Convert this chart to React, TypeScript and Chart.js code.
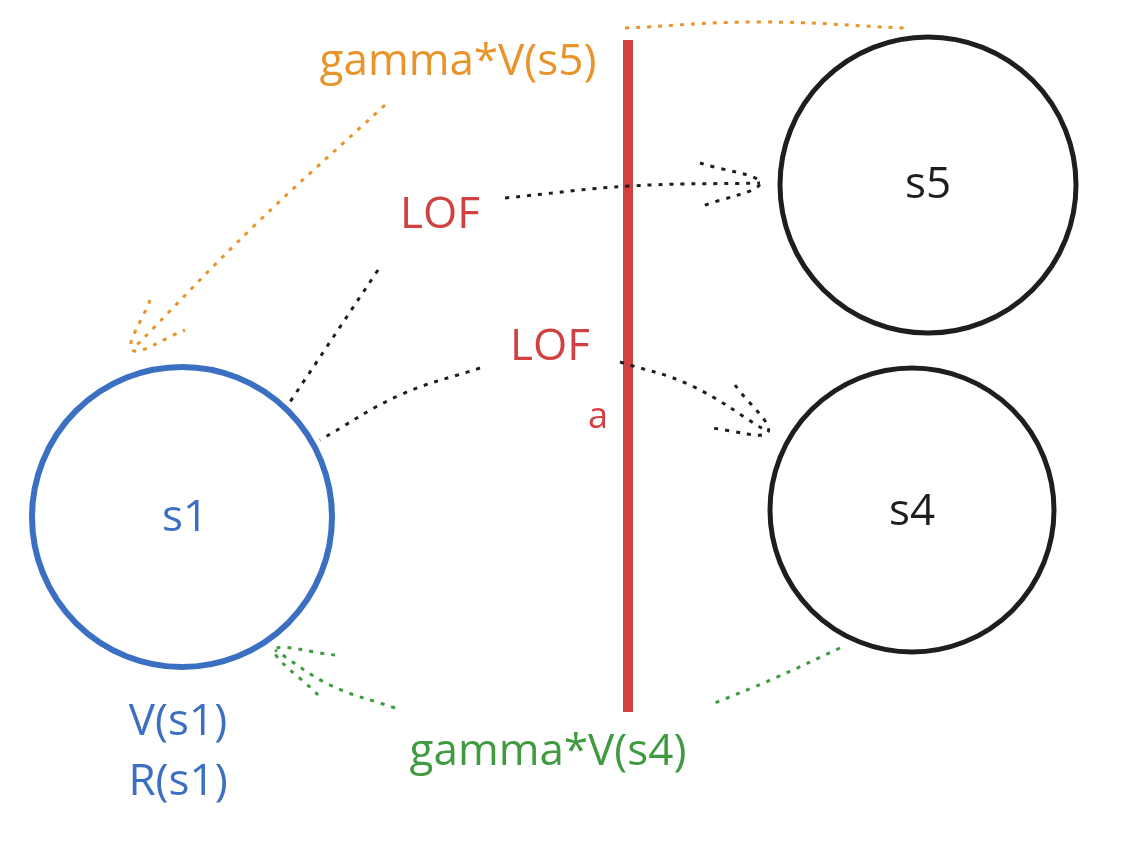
import { Chart, registerables } from 'chart.js';
import { useEffect, useRef } from 'react';

Chart.register(...registerables);

// states of the diagram (canvas-like coordinates, y grows downward)
const nodeNames = ['s1', 's5', 's4'];
const nodeX = [182, 928, 912];
const nodeY = [517, 185, 510];
const nodeColors = ['#3b6fc1', '#1e1e1e', '#1e1e1e'];

// action line
const actionLine = [{ x: 628, y: 40 }, { x: 628, y: 712 }];

// dotted arrows
const orangePaths = [
    [{ x: 385, y: 105 }, { x: 255, y: 225 }, { x: 132, y: 350 }],
    [{ x: 150, y: 300 }, { x: 132, y: 350 }, { x: 185, y: 330 }],
    [{ x: 625, y: 28 }, { x: 760, y: 22 }, { x: 905, y: 28 }],
];
const blackPaths = [
    [{ x: 505, y: 198 }, { x: 630, y: 186 }, { x: 760, y: 183 }],
    [{ x: 700, y: 163 }, { x: 760, y: 183 }, { x: 700, y: 207 }],
    [{ x: 378, y: 270 }, { x: 290, y: 402 }],
    [{ x: 480, y: 368 }, { x: 400, y: 395 }, { x: 320, y: 440 }],
    [{ x: 620, y: 362 }, { x: 690, y: 385 }, { x: 768, y: 432 }],
    [{ x: 735, y: 385 }, { x: 768, y: 432 }, { x: 710, y: 428 }],
];
const greenPaths = [
    [{ x: 395, y: 708 }, { x: 330, y: 685 }, { x: 275, y: 650 }],
    [{ x: 335, y: 655 }, { x: 275, y: 650 }, { x: 318, y: 695 }],
    [{ x: 840, y: 648 }, { x: 775, y: 678 }, { x: 710, y: 705 }],
];

// labels
const labelTexts = ['gamma*V(s5)', 'LOF', 'LOF', 'a', 's5', 's4', 's1', 'V(s1)', 'R(s1)', 'gamma*V(s4)'];
const labelX = [458, 440, 550, 598, 928, 912, 185, 178, 178, 548];
const labelY = [62, 215, 347, 418, 185, 512, 518, 722, 782, 752];
const labelColors = ['#e8942a', '#d04141', '#d04141', '#d04141', '#1e1e1e', '#1e1e1e', '#3b6fc1', '#3b6fc1', '#3b6fc1', '#3f9a40'];

const labelPlugin = {
    id: 'labels',
    afterDatasetsDraw(chart: Chart) {
        const { ctx, scales } = chart;
        ctx.save();
        ctx.textAlign = 'center';
        ctx.textBaseline = 'middle';
        labelTexts.forEach((t, i) => {
            ctx.font = (i === 3 ? '36px' : '44px') + ' "Open Sans", sans-serif';
            ctx.fillStyle = labelColors[i];
            ctx.fillText(t, scales.x.getPixelForValue(labelX[i]), scales.y.getPixelForValue(labelY[i]));
        });
        ctx.restore();
    },
};

const dotted = (data: { x: number; y: number }[], color: string) => ({
    type: 'line' as const,
    data,
    borderColor: color,
    borderWidth: 3,
    borderDash: [4, 7],
    tension: 0.4,
    pointRadius: 0,
    fill: false,
    clip: false,
});

export default function App() {
    const canvasRef = useRef<HTMLCanvasElement | null>(null);

    useEffect(() => {
        if (!canvasRef.current) return;
        const datasets: any[] = [
            ...orangePaths.map((p) => dotted(p, '#e8942a')),
            ...blackPaths.map((p) => dotted(p, '#1e1e1e')),
            ...greenPaths.map((p) => dotted(p, '#3f9a40')),
            {
                type: 'line',
                data: actionLine,
                borderColor: '#d04141',
                borderWidth: 10,
                pointRadius: 0,
                clip: false,
            },
            {
                type: 'scatter',
                data: nodeNames.map((_, i) => ({ x: nodeX[i], y: nodeY[i] })),
                pointRadius: [150, 148, 142],
                pointBorderWidth: [6, 5, 5],
                pointBorderColor: nodeColors,
                pointBackgroundColor: 'transparent',
                pointHoverRadius: [150, 148, 142],
                clip: false,
            },
        ];
        const chart = new Chart(canvasRef.current, {
            type: 'scatter',
            data: { datasets },
            options: {
                animation: false,
                responsive: false,
                layout: { padding: 0, autoPadding: false },
                plugins: { legend: { display: false }, tooltip: { enabled: false } },
                scales: {
                    x: { type: 'linear', min: 0, max: 1144, display: false },
                    y: { type: 'linear', min: 0, max: 848, reverse: true, display: false },
                },
            },
            plugins: [labelPlugin],
        });
        return () => chart.destroy();
    }, []);

    return (
        <div style={{ position: 'absolute', left: 0, top: 0, width: 1144, height: 848, background: '#fff' }}>
            <canvas ref={canvasRef} width={1144} height={848}></canvas>
        </div>
    );
}
